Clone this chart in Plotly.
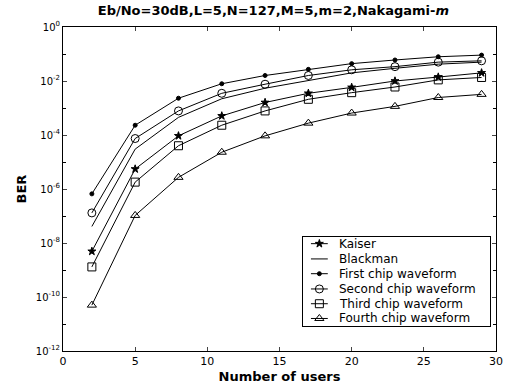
import plotly.graph_objects as go

users = [2, 5, 8, 11, 14, 17, 20, 23, 26, 29]

kaiser = [4.9e-9, 5.5e-6, 9.3e-5, 5.1e-4, 1.6e-3, 3.5e-3, 5.8e-3, 1.0e-2, 1.4e-2, 2.0e-2]
blackman = [4.1e-8, 3.0e-5, 4.5e-4, 2.2e-3, 5.4e-3, 1.07e-2, 2.0e-2, 2.95e-2, 4.2e-2, 5.0e-2]
first_chip = [6.6e-7, 2.3e-4, 2.3e-3, 7.9e-3, 1.6e-2, 2.7e-2, 4.4e-2, 6.0e-2, 7.9e-2, 9.1e-2]
second_chip = [1.3e-7, 7.4e-5, 7.8e-4, 3.5e-3, 7.6e-3, 1.6e-2, 2.6e-2, 3.4e-2, 5.0e-2, 5.6e-2]
third_chip = [1.3e-9, 1.8e-6, 4.0e-5, 2.3e-4, 7.8e-4, 2.1e-3, 3.7e-3, 6.0e-3, 1.1e-2, 1.35e-2]
fourth_chip = [5.0e-11, 1.05e-7, 2.7e-6, 2.3e-5, 9.3e-5, 2.75e-4, 6.5e-4, 1.15e-3, 2.45e-3, 3.2e-3]

series_names = ["Kaiser", "Blackman", "First chip waveform", "Second chip waveform",
                "Third chip waveform", "Fourth chip waveform"]
series_values = [kaiser, blackman, first_chip, second_chip, third_chip, fourth_chip]
series_symbols = ["star", None, "circle", "circle-open", "square-open", "triangle-up-open"]
series_sizes = [6, 0, 4, 8, 8, 8]

x_ticks = [0, 5, 10, 15, 20, 25, 30]
y_exps = [0, -2, -4, -6, -8, -10, -12]

fig = go.Figure()
for name, vals, sym, size in zip(series_names, series_values, series_symbols, series_sizes):
    if sym is None:
        fig.add_trace(go.Scatter(x=users, y=vals, name=name, mode="lines", showlegend=False,
                                 line=dict(color="black", width=1)))
    else:
        fig.add_trace(go.Scatter(x=users, y=vals, name=name, mode="lines+markers",
                                 showlegend=False,
                                 line=dict(color="black", width=1),
                                 marker=dict(symbol=sym, size=size, color="black",
                                             line=dict(color="black", width=1))))

# custom legend drawn in its own small axes (rows 15 px apart)
leg_rows = [7, 22, 36.5, 51.5, 66, 80.5]
for name, sym, size, row in zip(series_names, series_symbols, series_sizes, leg_rows):
    fig.add_trace(go.Scatter(x=[0.042, 0.132], y=[row, row], mode="lines",
                             xaxis="x2", yaxis="y2", showlegend=False, hoverinfo="skip",
                             line=dict(color="black", width=1)))
    if sym is not None:
        fig.add_trace(go.Scatter(x=[0.087], y=[row], mode="markers",
                                 xaxis="x2", yaxis="y2", showlegend=False, hoverinfo="skip",
                                 marker=dict(symbol=sym, size=size, color="black",
                                             line=dict(color="black", width=1))))
    fig.add_annotation(x=0.18, y=row, xref="x2", yref="y2", text=name, showarrow=False,
                       xanchor="left", yanchor="middle",
                       font=dict(family="DejaVu Sans", size=12, color="black"))

font_family = "DejaVu Sans, Liberation Sans, sans-serif"

fig.update_layout(
    width=512, height=390,
    margin=dict(l=63, r=9, t=27, b=37),
    paper_bgcolor="white", plot_bgcolor="white",
    font=dict(family=font_family, size=10, color="black"),
    title=dict(text="<b>Eb/No=30dB,L=5,N=127,M=5,m=2,Nakagami-<i>m</i></b>",
               x=0.534, xanchor="center", xref="container", y=0.973, yanchor="middle",
               font=dict(size=13, color="black")),
    showlegend=False,
    xaxis=dict(range=[0, 30], tickvals=x_ticks, ticktext=[str(v) for v in x_ticks],
               ticks="inside", ticklen=4, showline=True, linecolor="black",
               linewidth=1, mirror="ticks", showgrid=False, zeroline=False,
               tickfont=dict(size=11),
               title=dict(text="<b>Number of users</b>", font=dict(size=13), standoff=4)),
    yaxis=dict(type="log", range=[-12, 0],
               tickvals=[10 ** e for e in y_exps],
               ticktext=["10<sup>%d</sup>" % e for e in y_exps],
               ticks="inside", ticklen=4, showline=True, linecolor="black",
               linewidth=1, mirror="ticks", showgrid=False, zeroline=False,
               minor=dict(tickvals=[10 ** e for e in range(-11, 0, 2)], ticks="inside",
                          ticklen=3, tickcolor="black"),
               title=dict(text="<b>BER</b>", font=dict(size=13), standoff=6)),
    xaxis2=dict(domain=[0.5545, 0.9864], range=[0, 1], anchor="y2",
                showline=True, mirror=True, linecolor="black", linewidth=1,
                showticklabels=False, ticks="", showgrid=False, zeroline=False,
                fixedrange=True),
    yaxis2=dict(domain=[0.0768, 0.3533], range=[88, 0], anchor="x2",
                showline=True, mirror=True, linecolor="black", linewidth=1,
                showticklabels=False, ticks="", showgrid=False, zeroline=False,
                fixedrange=True),
)

fig.write_html("out.html")
